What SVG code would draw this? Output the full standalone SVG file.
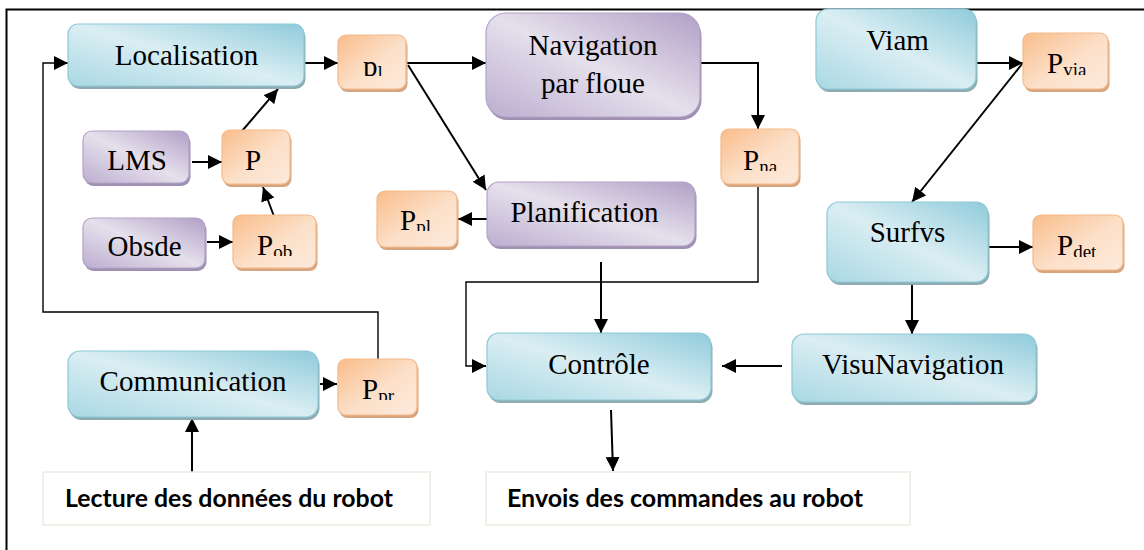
<svg xmlns="http://www.w3.org/2000/svg" width="1144" height="550" viewBox="0 0 1144 550">
<style>
.t{font-family:"Liberation Serif","Times New Roman",serif;font-size:29px;fill:#000}
.sub{font-size:19px}
.b{fill:url(#gb);stroke:#8ec9d8;stroke-width:1.2}
.p{fill:url(#gp);stroke:#b3a3c8;stroke-width:1.2}
.o{fill:url(#go);stroke:#f5b98a;stroke-width:1.2}
.sb{fill:#8fabb2}
.sp{fill:#9e90b1}
.so{fill:#d6a57f}
.lbl{fill:#fff;stroke:#eeece1;stroke-width:1.5}
.lt{font-family:Lato,"Open Sans",sans-serif;font-weight:bold;font-size:24px;fill:#000}
.c{fill:none;stroke:#000;stroke-width:2;marker-end:url(#ah)}
.thin{fill:none;stroke:#000;stroke-width:1.4}
</style>
<defs>
<linearGradient id="gb" x1="1" y1="0" x2="0" y2="1">
<stop offset="0" stop-color="#8fcbdb"/><stop offset="0.5" stop-color="#daeef3"/><stop offset="1" stop-color="#a9d8e3"/>
</linearGradient>
<linearGradient id="gp" x1="1" y1="0" x2="0" y2="1">
<stop offset="0" stop-color="#b19fc6"/><stop offset="0.5" stop-color="#e5e0ec"/><stop offset="1" stop-color="#bcaed0"/>
</linearGradient>
<linearGradient id="go" x1="0" y1="0" x2="1" y2="1">
<stop offset="0" stop-color="#f9bd8b"/><stop offset="0.55" stop-color="#fce0c9"/><stop offset="1" stop-color="#fdeadc"/>
</linearGradient>
<marker id="ah" markerUnits="userSpaceOnUse" markerWidth="14" markerHeight="14" refX="14" refY="7" orient="auto">
<path d="M0,0 L14,7 L0,14 z" fill="#000"/>
</marker>
<clipPath id="c1"><rect x="338" y="35" width="68" height="41"/></clipPath>
<clipPath id="c2"><rect x="222" y="130" width="68" height="54"/></clipPath>
<clipPath id="c3"><rect x="233" y="215" width="83" height="41"/></clipPath>
<clipPath id="c4"><rect x="377" y="191" width="80" height="40"/></clipPath>
<clipPath id="c5"><rect x="721" y="129" width="78" height="42"/></clipPath>
<clipPath id="c6"><rect x="1023" y="33" width="85" height="42"/></clipPath>
<clipPath id="c7"><rect x="1033" y="215" width="90" height="42"/></clipPath>
<clipPath id="c8"><rect x="338" y="359" width="79" height="41"/></clipPath>
</defs>
<rect width="1144" height="550" fill="#fff"/>
<path d="M6.5,560 V9.5 H1150" fill="none" stroke="#000" stroke-width="2"/>

<g id="connectors">
<path class="thin" d="M378,359 V312 H43 V63 H56"/>
<path class="c" d="M54,63 H68"/>
<path class="c" d="M305,63 H338"/>
<path class="c" d="M192,162 H222"/>
<path class="c" d="M207,242 H233"/>
<path class="c" d="M275,219 L263,187"/>
<path class="c" d="M242,131 L278,89"/>
<path class="c" d="M407,63 H486"/>
<path class="c" d="M408,65 L486,190"/>
<path class="c" d="M487,219 H458"/>
<path class="c" d="M700,63 H758 V129"/>
<path class="thin" d="M758,185 V282 H466 V366 H476"/>
<path class="c" d="M474,366 H486"/>
<path class="c" d="M601,262 V333"/>
<path class="c" d="M782,366 H722"/>
<path class="c" d="M611,410 L613,471"/>
<path class="c" d="M320,384 H337"/>
<path class="c" d="M192,479 V418"/>
<path class="c" d="M976,63 H1023"/>
<path class="c" d="M1022,64 L912,202"/>
<path class="c" d="M988,247 H1033"/>
<path class="c" d="M912,283 V334"/>
</g>

<g id="localisation"><rect class="sb" x="69.5" y="27" width="236" height="62" rx="10"/><rect class="b" x="68" y="24" width="236" height="62" rx="10"/><text class="t" x="186.5" y="65" text-anchor="middle">Localisation</text></g>
<g id="lms"><rect class="sp" x="84.5" y="134" width="106" height="52" rx="9"/><rect class="p" x="83" y="131" width="106" height="52" rx="9"/><text class="t" x="137" y="170" text-anchor="middle">LMS</text></g>
<g id="obsde"><rect class="sp" x="84.5" y="221" width="122" height="50" rx="9"/><rect class="p" x="83" y="218" width="122" height="50" rx="9"/><text class="t" x="144.5" y="256" text-anchor="middle">Obsde</text></g>
<g id="navigation"><rect class="sp" x="487.5" y="16" width="214" height="104" rx="20"/><rect class="p" x="486" y="13" width="214" height="104" rx="20"/><text class="t" x="593" y="55" text-anchor="middle">Navigation</text><text class="t" x="593" y="93" text-anchor="middle">par floue</text></g>
<g id="planification"><rect class="sp" x="488.5" y="185" width="208" height="64" rx="12"/><rect class="p" x="487" y="182" width="208" height="64" rx="12"/><text class="t" x="584.5" y="222" text-anchor="middle">Planification</text></g>
<g id="viam"><rect class="sb" x="817.5" y="12" width="160" height="80" rx="12"/><rect class="b" x="816" y="9" width="160" height="80" rx="12"/><text class="t" x="897.5" y="50" text-anchor="middle">Viam</text></g>
<g id="surfvs"><rect class="sb" x="828.5" y="205" width="161" height="80" rx="12"/><rect class="b" x="827" y="202" width="161" height="80" rx="12"/><text class="t" x="907.5" y="242" text-anchor="middle">Surfvs</text></g>
<g id="controle"><rect class="sb" x="488.5" y="336" width="224" height="67" rx="12"/><rect class="b" x="487" y="333" width="224" height="67" rx="12"/><text class="t" x="599" y="374" text-anchor="middle">Contrôle</text></g>
<g id="visunavigation"><rect class="sb" x="793.5" y="337" width="244" height="68" rx="12"/><rect class="b" x="792" y="334" width="244" height="68" rx="12"/><text class="t" x="913" y="374" text-anchor="middle">VisuNavigation</text></g>
<g id="communication"><rect class="sb" x="69.5" y="354" width="250" height="66" rx="12"/><rect class="b" x="68" y="351" width="250" height="66" rx="12"/><text class="t" x="193" y="391" text-anchor="middle">Communication</text></g>

<g id="p_l"><rect class="so" x="339.5" y="38" width="68" height="54" rx="8"/><rect class="o" x="338" y="35" width="68" height="54" rx="8"/><text class="t" x="363" y="76" clip-path="url(#c1)">p<tspan class="sub" dy="3">l</tspan></text></g>
<g id="p"><rect class="so" x="223.5" y="133" width="68" height="54" rx="8"/><rect class="o" x="222" y="130" width="68" height="54" rx="8"/><text class="t" x="245" y="170" clip-path="url(#c2)">P</text></g>
<g id="p_ob"><rect class="so" x="234.5" y="218" width="83" height="53" rx="8"/><rect class="o" x="233" y="215" width="83" height="53" rx="8"/><text class="t" x="257" y="255" clip-path="url(#c3)">P<tspan class="sub" dy="3">ob</tspan></text></g>
<g id="p_pl"><rect class="so" x="378.5" y="194" width="80" height="56" rx="8"/><rect class="o" x="377" y="191" width="80" height="56" rx="8"/><text class="t" x="400" y="230" clip-path="url(#c4)">P<tspan class="sub" dy="3">pl</tspan></text></g>
<g id="p_na"><rect class="so" x="722.5" y="132" width="78" height="55" rx="8"/><rect class="o" x="721" y="129" width="78" height="55" rx="8"/><text class="t" x="743" y="170" clip-path="url(#c5)">P<tspan class="sub" dy="3">na</tspan></text></g>
<g id="p_via"><rect class="so" x="1024.5" y="36" width="85" height="56" rx="8"/><rect class="o" x="1023" y="33" width="85" height="56" rx="8"/><text class="t" x="1047" y="73" clip-path="url(#c6)">P<tspan class="sub" dy="3">via</tspan></text></g>
<g id="p_det"><rect class="so" x="1034.5" y="218" width="90" height="55" rx="8"/><rect class="o" x="1033" y="215" width="90" height="55" rx="8"/><text class="t" x="1057" y="255" clip-path="url(#c7)">P<tspan class="sub" dy="3">det</tspan></text></g>
<g id="p_pr"><rect class="so" x="339.5" y="362" width="79" height="56" rx="8"/><rect class="o" x="338" y="359" width="79" height="56" rx="8"/><text class="t" x="362" y="399" clip-path="url(#c8)">P<tspan class="sub" dy="3">pr</tspan></text></g>

<g id="lecture"><rect class="lbl" x="43" y="472" width="387" height="53"/><text class="lt" x="65" y="507" textLength="328" lengthAdjust="spacingAndGlyphs">Lecture des données du robot</text></g>
<g id="envois"><rect class="lbl" x="486" y="472" width="424" height="53"/><text class="lt" x="507" y="507" textLength="356" lengthAdjust="spacingAndGlyphs">Envois des commandes au robot</text></g>
</svg>
